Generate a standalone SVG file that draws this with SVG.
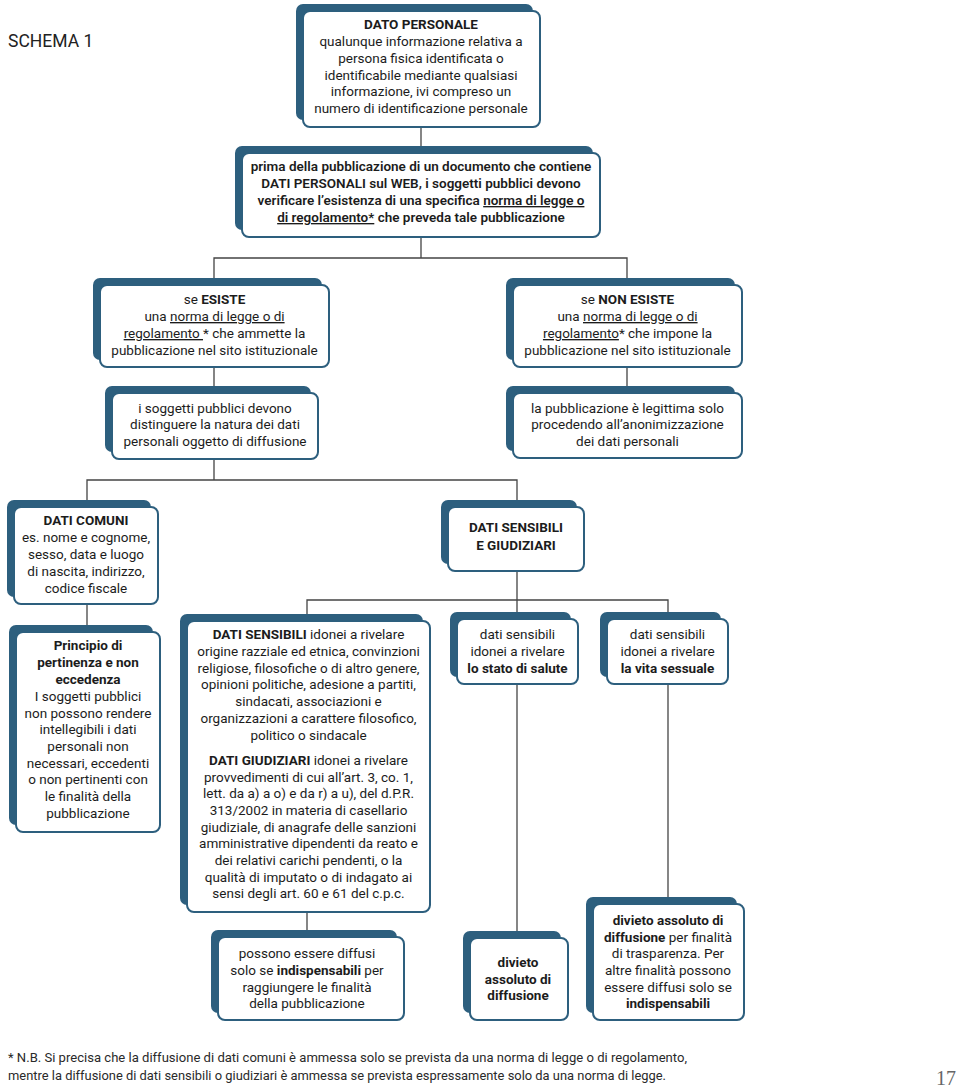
<svg xmlns="http://www.w3.org/2000/svg" width="960" height="1090" viewBox="0 0 960 1090">
<style>
.bk{fill:#2d5f7e}
.fr{fill:#fff;stroke:#2d5f7e;stroke-width:2}
.t{font-family:Roboto,"Liberation Sans",sans-serif;font-size:13.5px;fill:#1c1c1c;text-anchor:middle}
.sb{font-weight:600}
.b{font-weight:bold}
.u{text-decoration:underline}
.c{stroke:#444;stroke-width:1.3;fill:none}
</style>
<rect width="960" height="1090" fill="#fff"/>
<text x="8" y="47" style="font-family:Roboto,'Liberation Sans',sans-serif;font-size:17.5px;fill:#222">SCHEMA 1</text>

<g id="connectors" class="c">
<path d="M421 127V146"/>
<path d="M421 237V258M214 278V258H627V278"/>
<path d="M214 367V386M627 367V386"/>
<path d="M214 459V480M87 500V480H517V500"/>
<path d="M87 604V625"/>
<path d="M517 571V612M307 614V600H668V612"/>
<path d="M307 912V930"/>
<path d="M517 684V931"/>
<path d="M668 684V897"/>
</g>

<g id="n1">
<rect class="bk" x="296" y="4" width="237" height="116" rx="7"/>
<rect class="fr" x="303" y="11" width="237" height="116" rx="7"/>
<text class="t"><tspan x="421" y="29" class="b">DATO PERSONALE</tspan><tspan x="421" y="46">qualunque informazione relativa a</tspan><tspan x="421" y="63">persona fisica identificata o</tspan><tspan x="421" y="80">identificabile mediante qualsiasi</tspan><tspan x="421" y="96">informazione, ivi compreso un</tspan><tspan x="421" y="113">numero di identificazione personale</tspan></text>
</g>

<g id="n2">
<rect class="bk" x="235" y="146" width="358" height="84" rx="7"/>
<rect class="fr" x="242" y="153" width="358" height="84" rx="7"/>
<text class="t sb"><tspan x="421" y="171">prima della pubblicazione di un documento che contiene</tspan><tspan x="421" y="188">DATI PERSONALI sul WEB, i soggetti pubblici devono</tspan><tspan x="421" y="205">verificare l’esistenza di una specifica <tspan class="u">norma di legge o</tspan></tspan><tspan x="421" y="222"><tspan class="u">di regolamento*</tspan> che preveda tale pubblicazione</tspan></text>
</g>

<g id="n3">
<rect class="bk" x="93" y="278" width="229" height="82" rx="7"/>
<rect class="fr" x="100" y="285" width="229" height="82" rx="7"/>
<text class="t"><tspan x="214.5" y="304">se <tspan class="b">ESISTE</tspan></tspan><tspan x="214.5" y="321">una <tspan class="u">norma di legge o di</tspan></tspan><tspan x="214.5" y="338"><tspan class="u">regolamento </tspan>* che ammette la</tspan><tspan x="214.5" y="355">pubblicazione nel sito istituzionale</tspan></text>
</g>

<g id="n4">
<rect class="bk" x="506" y="278" width="229" height="82" rx="7"/>
<rect class="fr" x="513" y="285" width="229" height="82" rx="7"/>
<text class="t"><tspan x="627.5" y="304">se <tspan class="b">NON ESISTE</tspan></tspan><tspan x="627.5" y="321">una <tspan class="u">norma di legge o di</tspan></tspan><tspan x="627.5" y="338"><tspan class="u">regolamento</tspan>* che impone la</tspan><tspan x="627.5" y="355">pubblicazione nel sito istituzionale</tspan></text>
</g>

<g id="n5">
<rect class="bk" x="105" y="386" width="206" height="66" rx="7"/>
<rect class="fr" x="112" y="393" width="206" height="66" rx="7"/>
<text class="t"><tspan x="215" y="413">i soggetti pubblici devono</tspan><tspan x="215" y="429">distinguere la natura dei dati</tspan><tspan x="215" y="446">personali oggetto di diffusione</tspan></text>
</g>

<g id="n6">
<rect class="bk" x="506" y="386" width="229" height="65" rx="7"/>
<rect class="fr" x="513" y="393" width="229" height="65" rx="7"/>
<text class="t"><tspan x="627.5" y="413">la pubblicazione è legittima solo</tspan><tspan x="627.5" y="429">procedendo all’anonimizzazione</tspan><tspan x="627.5" y="446">dei dati personali</tspan></text>
</g>

<g id="n7">
<rect class="bk" x="7" y="500" width="144" height="97" rx="7"/>
<rect class="fr" x="14" y="507" width="144" height="97" rx="7"/>
<text class="t"><tspan x="86" y="525" class="b">DATI COMUNI</tspan><tspan x="86" y="542">es. nome e cognome,</tspan><tspan x="86" y="559">sesso, data e luogo</tspan><tspan x="86" y="576">di nascita, indirizzo,</tspan><tspan x="86" y="593">codice fiscale</tspan></text>
</g>

<g id="n8">
<rect class="bk" x="441" y="500" width="136" height="64" rx="7"/>
<rect class="fr" x="448" y="507" width="136" height="64" rx="7"/>
<text class="t b"><tspan x="516" y="532">DATI SENSIBILI</tspan><tspan x="516" y="550">E GIUDIZIARI</tspan></text>
</g>

<g id="n9">
<rect class="bk" x="9" y="625" width="144" height="200" rx="7"/>
<rect class="fr" x="16" y="632" width="144" height="200" rx="7"/>
<text class="t"><tspan x="88" y="650" class="b">Principio di</tspan><tspan x="88" y="667" class="b">pertinenza e non</tspan><tspan x="88" y="684" class="b">eccedenza</tspan><tspan x="88" y="701">I soggetti pubblici</tspan><tspan x="88" y="718">non possono rendere</tspan><tspan x="88" y="734">intellegibili i dati</tspan><tspan x="88" y="751">personali non</tspan><tspan x="88" y="768">necessari, eccedenti</tspan><tspan x="88" y="784">o non pertinenti con</tspan><tspan x="88" y="801">le finalità della</tspan><tspan x="88" y="818">pubblicazione</tspan></text>
</g>

<g id="n10">
<rect class="bk" x="180" y="614" width="243" height="291" rx="7"/>
<rect class="fr" x="187" y="621" width="243" height="291" rx="7"/>
<text class="t"><tspan x="308.5" y="639"><tspan class="b">DATI SENSIBILI</tspan> idonei a rivelare</tspan><tspan x="308.5" y="656">origine razziale ed etnica, convinzioni</tspan><tspan x="308.5" y="673">religiose, filosofiche o di altro genere,</tspan><tspan x="308.5" y="689">opinioni politiche, adesione a partiti,</tspan><tspan x="308.5" y="706">sindacati, associazioni e</tspan><tspan x="308.5" y="723">organizzazioni a carattere filosofico,</tspan><tspan x="308.5" y="740">politico o sindacale</tspan><tspan x="308.5" y="765"><tspan class="b">DATI GIUDIZIARI</tspan> idonei a rivelare</tspan><tspan x="308.5" y="782">provvedimenti di cui all’art. 3, co. 1,</tspan><tspan x="308.5" y="798">lett. da a) a o) e da r) a u), del d.P.R.</tspan><tspan x="308.5" y="815">313/2002 in materia di casellario</tspan><tspan x="308.5" y="832">giudiziale, di anagrafe delle sanzioni</tspan><tspan x="308.5" y="848">amministrative dipendenti da reato e</tspan><tspan x="308.5" y="865">dei relativi carichi pendenti, o la</tspan><tspan x="308.5" y="882">qualità di imputato o di indagato ai</tspan><tspan x="308.5" y="898">sensi degli art. 60 e 61 del c.p.c.</tspan></text>
</g>

<g id="n11">
<rect class="bk" x="450" y="612" width="121" height="65" rx="7"/>
<rect class="fr" x="457" y="619" width="121" height="65" rx="7"/>
<text class="t"><tspan x="517.5" y="639">dati sensibili</tspan><tspan x="517.5" y="656">idonei a rivelare</tspan><tspan x="517.5" y="673" class="b">lo stato di salute</tspan></text>
</g>

<g id="n12">
<rect class="bk" x="600" y="612" width="121" height="65" rx="7"/>
<rect class="fr" x="607" y="619" width="121" height="65" rx="7"/>
<text class="t"><tspan x="667.5" y="639">dati sensibili</tspan><tspan x="667.5" y="656">idonei a rivelare</tspan><tspan x="667.5" y="673" class="b">la vita sessuale</tspan></text>
</g>

<g id="n13">
<rect class="bk" x="211" y="930" width="186" height="83" rx="7"/>
<rect class="fr" x="218" y="937" width="186" height="83" rx="7"/>
<text class="t"><tspan x="307" y="958">possono essere diffusi</tspan><tspan x="307" y="975">solo se <tspan class="b">indispensabili</tspan> per</tspan><tspan x="307" y="992">raggiungere le finalità</tspan><tspan x="307" y="1008">della pubblicazione</tspan></text>
</g>

<g id="n14">
<rect class="bk" x="463" y="931" width="98" height="82" rx="7"/>
<rect class="fr" x="470" y="938" width="98" height="82" rx="7"/>
<text class="t b"><tspan x="518" y="967">divieto</tspan><tspan x="518" y="984">assoluto di</tspan><tspan x="518" y="1000">diffusione</tspan></text>
</g>

<g id="n15">
<rect class="bk" x="586" y="897" width="151" height="116" rx="7"/>
<rect class="fr" x="593" y="904" width="151" height="116" rx="7"/>
<text class="t"><tspan x="668" y="925" class="b">divieto assoluto di</tspan><tspan x="668" y="942"><tspan class="b">diffusione</tspan> per finalità</tspan><tspan x="668" y="958">di trasparenza. Per</tspan><tspan x="668" y="975">altre finalità possono</tspan><tspan x="668" y="992">essere diffusi solo se</tspan><tspan x="668" y="1008" class="b">indispensabili</tspan></text>
</g>

<g id="footnote" style="font-family:Roboto,'Liberation Sans',sans-serif;font-size:13px;fill:#2a2a2a">
<text x="8" y="1062" textLength="679" lengthAdjust="spacingAndGlyphs">* N.B. Si precisa che la diffusione di dati comuni è ammessa solo se prevista da una norma di legge o di regolamento,</text>
<text x="8" y="1080" textLength="658" lengthAdjust="spacingAndGlyphs">mentre la diffusione di dati sensibili o giudiziari è ammessa se prevista espressamente solo da una norma di legge.</text>
</g>
<text x="956" y="1085" style="font-family:'Liberation Serif',serif;font-size:20px;fill:#666;text-anchor:end">17</text>
</svg>
